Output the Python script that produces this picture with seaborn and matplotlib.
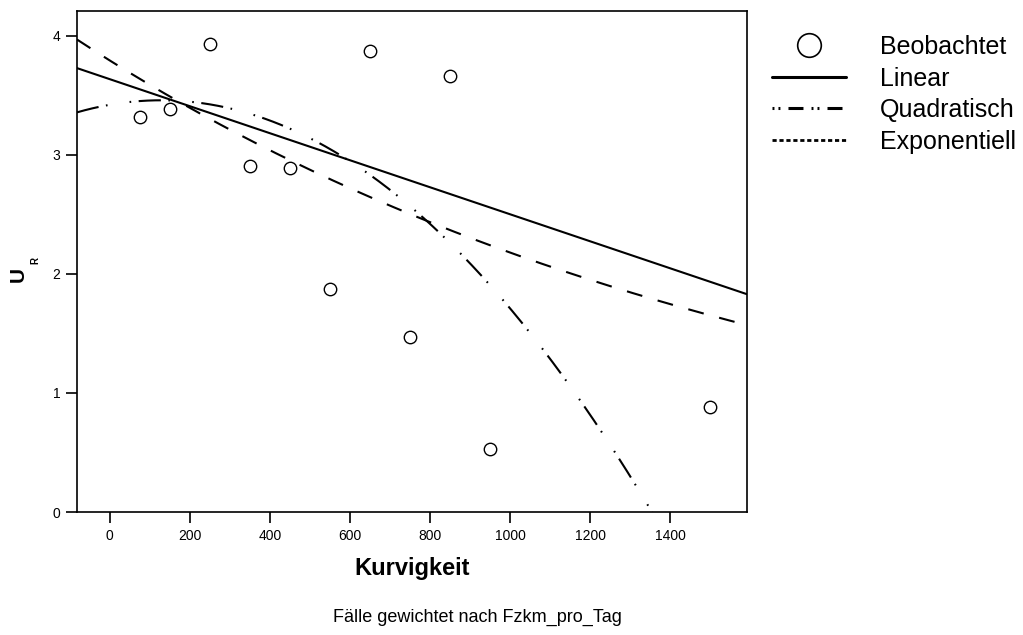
import numpy as np
import pandas as pd
import matplotlib
matplotlib.use("Agg")
import matplotlib.pyplot as plt
from matplotlib.lines import Line2D
import seaborn as sns

# Observed values (Kurvigkeit vs. U_R)
kurvigkeit = [75, 150, 250, 350, 450, 550, 650, 750, 850, 950, 1500]
u_r = [3.32, 3.39, 3.93, 2.91, 2.89, 1.87, 3.87, 1.47, 3.66, 0.53, 0.88]

# Weighted fit coefficients
linear_coef = [3.637, -0.001135]            # b0, b1
quad_coef = [3.422, 5.89e-4, -2.3e-6]       # b0, b1, b2
expo_coef = [3.794, -0.000554]              # a, b  (a * exp(b x))

x_ticks = [0, 200, 400, 600, 800, 1000, 1200, 1400]
y_ticks = [0, 1, 2, 3, 4]
x_range = (-82, 1592)
y_range = (0, 4.21)

series_labels = ["Beobachtet", "Linear", "Quadratisch", "Exponentiell"]

sns.set_theme(style="white")
plt.rcParams["font.family"] = ["Liberation Sans", "DejaVu Sans"]
plt.rcParams["lines.scale_dashes"] = False
for key in ["text.color", "axes.labelcolor", "xtick.color", "ytick.color"]:
    plt.rcParams[key] = "black"

fig = plt.figure(figsize=(10.23, 6.35), dpi=100)
ax = fig.add_axes([77 / 1023, 123 / 635, 670 / 1023, 501 / 635])

xs = np.linspace(x_range[0], x_range[1], 600)
curves = pd.DataFrame({
    "x": xs,
    "lin": linear_coef[0] + linear_coef[1] * xs,
    "quad": quad_coef[0] + quad_coef[1] * xs + quad_coef[2] * xs ** 2,
    "exp": expo_coef[0] * np.exp(expo_coef[1] * xs),
})
obs = pd.DataFrame({"Kurvigkeit": kurvigkeit, "U_R": u_r})

sns.lineplot(data=curves, x="x", y="lin", ax=ax, color="black", lw=1.5)
sns.lineplot(data=curves, x="x", y="exp", ax=ax, color="black", lw=1.5)
ax.get_lines()[-1].set_dashes([11.5, 11.5])
sns.lineplot(data=curves, x="x", y="quad", ax=ax, color="black", lw=1.5)
ax.get_lines()[-1].set_dashes([16, 5.4, 1.2, 16, 1.2, 5.4])

sns.scatterplot(data=obs, x="Kurvigkeit", y="U_R", ax=ax, s=80,
                facecolor="white", edgecolor="black", linewidth=1.0,
                marker="o", zorder=5)

ax.set_xlim(*x_range)
ax.set_ylim(*y_range)
ax.set_xticks(x_ticks)
ax.set_yticks(y_ticks)
ax.tick_params(axis="both", which="major", direction="out", length=8,
               width=1.2, color="black", labelsize=10, pad=4,
               bottom=True, left=True)
for sp in ax.spines.values():
    sp.set_visible(True)
    sp.set_color("black")
    sp.set_linewidth(1.2)

ax.set_xlabel("Kurvigkeit", fontsize=17, fontweight="bold", labelpad=10)
ax.set_ylabel("")

# y-axis title: U with subscript R
fig.text(18.5 / 1023, 1 - 275 / 635, "U", rotation=90, ha="center",
         va="center", fontsize=15, fontweight="bold")
fig.text(35 / 1023, 1 - 261 / 635, "R", rotation=90, ha="center",
         va="center", fontsize=7, fontweight="bold")

fig.text(477 / 1023, 18 / 635, "Fälle gewichtet nach Fzkm_pro_Tag",
         ha="center", va="center", fontsize=13)

handles = [
    Line2D([], [], ls="none", marker="o", markersize=17,
           markerfacecolor="white", markeredgecolor="black",
           markeredgewidth=1.2),
    Line2D([], [], color="black", lw=2.2),
    Line2D([], [], color="black", lw=2.2,
           dashes=[1.4, 2.9, 1.4, 5.8, 10.8, 5.8]),
    Line2D([], [], color="black", lw=2.0, dashes=[3.0, 2.0]),
]
fig.legend(handles, series_labels, loc="upper left",
           bbox_to_anchor=(772 / 1023, 1 - 35 / 635), frameon=False,
           fontsize=18, handlelength=2.96, handletextpad=1.36,
           labelspacing=0.3, borderaxespad=0, borderpad=0)

fig.savefig("out.png", dpi=100, facecolor="white")
